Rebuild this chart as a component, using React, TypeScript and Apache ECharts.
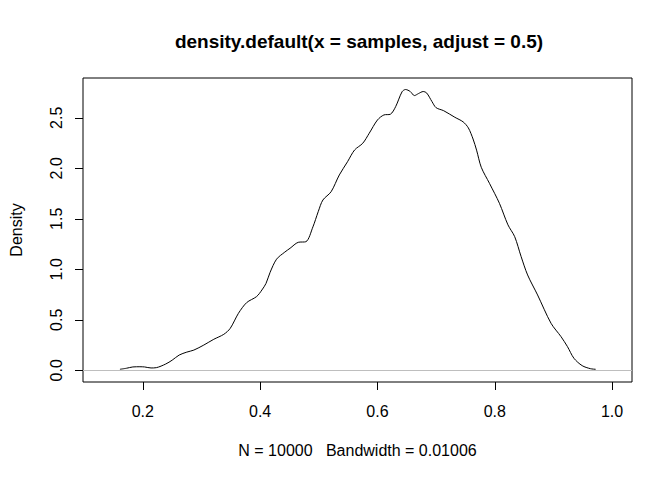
import React, { useEffect, useRef } from "react";
import * as echarts from "echarts";

// density curve (x = sample value, y = density)
const densityX = [
  0.161, 0.172, 0.183, 0.195, 0.203, 0.214, 0.223, 0.239, 0.25, 0.262,
  0.275, 0.287, 0.304, 0.321, 0.338, 0.349, 0.363, 0.377, 0.394, 0.403,
  0.41, 0.417, 0.428, 0.442, 0.451, 0.465, 0.478, 0.49, 0.499, 0.507,
  0.521, 0.535, 0.549, 0.561, 0.575, 0.586, 0.6, 0.611, 0.622, 0.631,
  0.642, 0.648, 0.656, 0.663, 0.67, 0.678, 0.684, 0.693, 0.7, 0.713,
  0.732, 0.746, 0.755, 0.763, 0.769, 0.777, 0.791, 0.808, 0.8225, 0.834,
  0.845, 0.856, 0.873, 0.896, 0.913, 0.924, 0.935, 0.949, 0.963, 0.972,
];
const densityY = [
  0.01, 0.02, 0.033, 0.035, 0.033, 0.023, 0.026, 0.062, 0.1, 0.151,
  0.18, 0.2, 0.25, 0.307, 0.356, 0.415, 0.564, 0.67, 0.73, 0.795,
  0.86, 0.97, 1.1, 1.17, 1.208, 1.267, 1.273, 1.42, 1.57, 1.686,
  1.768, 1.934, 2.065, 2.181, 2.248, 2.347, 2.478, 2.528, 2.535, 2.61,
  2.758, 2.78, 2.76, 2.72, 2.74, 2.76, 2.745, 2.66, 2.6, 2.57,
  2.505, 2.46, 2.4, 2.29, 2.18, 2.01, 1.851, 1.653, 1.44, 1.323,
  1.125, 0.944, 0.746, 0.465, 0.333, 0.234, 0.119, 0.046, 0.016, 0.01,
];

const xTicks = [0.2, 0.4, 0.6, 0.8, 1.0];
const yTicks = [0, 0.5, 1.0, 1.5, 2.0, 2.5];

const titleText = "density.default(x = samples, adjust = 0.5)";
const xLabel = "N = 10000   Bandwidth = 0.01006";
const yLabel = "Density";

const font = "'Liberation Sans', Arial, sans-serif";

const App: React.FC = () => {
  const chartRef = useRef<HTMLDivElement>(null);

  useEffect(() => {
    if (!chartRef.current) return;
    document.body.style.margin = "0";
    const chart = echarts.init(chartRef.current, null, { renderer: "svg" });

    const option = {
      animation: false,
      backgroundColor: "#fff",
      title: {
        text: titleText,
        left: 354,
        top: 27,
        textAlign: "center",
        textStyle: { fontSize: 19, fontWeight: "bold", fontFamily: font, color: "#000" },
      },
      grid: {
        left: 78,
        right: 40,
        top: 78,
        bottom: 98,
        show: true,
        borderColor: "#000",
        borderWidth: 1,
      },
      xAxis: {
        type: "value",
        min: 0.098,
        max: 1.034,
        name: xLabel,
        nameLocation: "middle",
        nameGap: 60,
        nameTextStyle: { fontSize: 16, fontFamily: font, color: "#000" },
        axisLine: { show: false, onZero: false },
        axisTick: { show: true, length: 8, customValues: xTicks, lineStyle: { color: "#000" } },
        axisLabel: {
          customValues: xTicks,
          margin: 21,
          fontSize: 16,
          fontFamily: font,
          color: "#000",
          formatter: (v: number) => v.toFixed(1),
        },
        splitLine: { show: false },
      },
      yAxis: {
        type: "value",
        min: -0.116,
        max: 2.894,
        name: yLabel,
        nameLocation: "middle",
        nameRotate: 90,
        nameGap: 59,
        nameTextStyle: { fontSize: 16, fontFamily: font, color: "#000" },
        axisLine: { show: false, onZero: false },
        axisTick: { show: true, length: 8, customValues: yTicks, lineStyle: { color: "#000" } },
        axisLabel: {
          customValues: yTicks,
          rotate: 90,
          margin: 19,
          fontSize: 16,
          fontFamily: font,
          color: "#000",
          formatter: (v: number) => v.toFixed(1),
        },
        splitLine: { show: false },
      },
      series: [
        {
          type: "line",
          data: densityX.map((x, i) => [x, densityY[i]]),
          showSymbol: false,
          smooth: 0.3,
          lineStyle: { color: "#000", width: 1 },
          markLine: {
            silent: true,
            symbol: "none",
            label: { show: false },
            lineStyle: { color: "#bebebe", width: 1, type: "solid" },
            data: [{ yAxis: 0 }],
          },
        },
      ],
    };

    chart.setOption(option);
    return () => {
      chart.dispose();
    };
  }, []);

  return <div ref={chartRef} style={{ width: 672, height: 480 }} />;
};

export default App;
